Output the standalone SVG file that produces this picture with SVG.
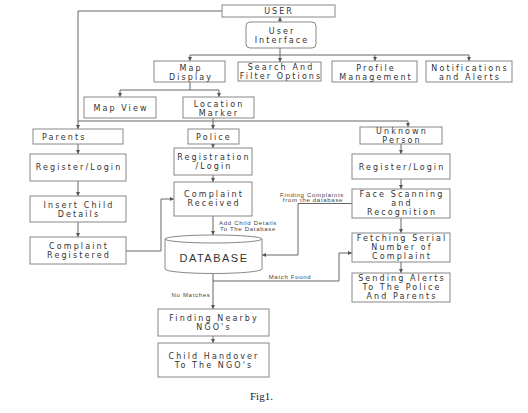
<svg xmlns="http://www.w3.org/2000/svg" width="528" height="413" viewBox="0 0 528 413">
<defs>
<marker id="ah" viewBox="0 0 6 6" refX="6" refY="3" markerWidth="4" markerHeight="4" orient="auto">
<path d="M0,0 L6,3 L0,6 Z" fill="#555"/>
</marker>
<style>
.b{fill:#fff;stroke:#888;stroke-width:1}
.t{font-family:"DejaVu Sans","Liberation Sans",sans-serif;font-size:8px;letter-spacing:2.1px;fill:#333;text-anchor:middle}
.s{font-family:"Liberation Sans",Arial,sans-serif;font-size:6px;letter-spacing:0.7px;fill:#444;text-anchor:middle}
.c path{fill:none;stroke:#666;stroke-width:1}
.a{marker-end:url(#ah)}
</style>
</defs>
<rect width="528" height="413" fill="#fff"/>
<g class="c" id="connectors">
<path class="a" d="M222,11 H78 V129"/>
<path d="M78,121 H408"/>
<path class="a" d="M408,121 V127"/>
<path class="a" d="M213,118 V129"/>
<path class="a" d="M280,22 V17"/>
<path class="a" d="M280,48 V62"/>
<path d="M190,55 H469"/>
<path class="a" d="M190,55 V61"/>
<path class="a" d="M375,55 V61"/>
<path class="a" d="M469,55 V61"/>
<path d="M190,82 V90 M120,90 H219"/>
<path class="a" d="M120,90 V97"/>
<path class="a" d="M219,90 V97"/>
<path class="a" d="M78,144 V154"/>
<path class="a" d="M78,181 V196"/>
<path class="a" d="M78,222 V237"/>
<path class="a" d="M126,251 H161 V199 H174"/>
<path class="a" d="M213,144 V148"/>
<path class="a" d="M213,175 V182"/>
<path class="a" d="M213,216 V235"/>
<path class="a" d="M401,144 V154"/>
<path class="a" d="M401,179 V189"/>
<path class="a" d="M401,218 V233"/>
<path class="a" d="M401,262 V273"/>
<path class="a" d="M352,203.5 H298 V255 H262"/>
<path class="a" d="M213,281 H339 V253 H352"/>
<path class="a" d="M213,273 V309"/>
<path class="a" d="M213,336 V343"/>
</g>
<g id="labels">
<text class="s" x="248" y="225">Add Child Details</text>
<text class="s" x="248" y="231">To The Database</text>
<text class="s" x="312" y="197">Finding Complaints</text>
<text class="s" x="313" y="202">from the database</text>
<text class="s" x="290" y="279">Match Found</text>
<text class="s" x="191" y="297">No Matches</text>
</g>
<g id="user"><rect class="b" x="222" y="5" width="113" height="12"/><text class="t" x="279" y="14" style="letter-spacing:2px">USER</text></g>
<g id="ui"><rect class="b" x="246" y="22" width="70" height="26" rx="4"/><text class="t" x="282" y="34">User</text><text class="t" x="282" y="43">Interface</text></g>
<g id="mapdisplay"><rect class="b" x="154" y="61" width="71" height="21"/><text class="t" x="191" y="70.5">Map</text><text class="t" x="191" y="79.5">Display</text></g>
<g id="search"><rect class="b" x="238" y="62" width="83" height="19"/><text class="t" x="281" y="70">Search And</text><text class="t" x="281" y="79">Filter Options</text></g>
<g id="profile"><rect class="b" x="332" y="61" width="85" height="21"/><text class="t" x="376" y="70.5">Profile</text><text class="t" x="376" y="79.5">Management</text></g>
<g id="notifications"><rect class="b" x="426" y="61" width="86" height="21"/><text class="t" x="470" y="70.5">Notifications</text><text class="t" x="470" y="79.5">and Alerts</text></g>
<g id="mapview"><rect class="b" x="84" y="97" width="72" height="21"/><text class="t" x="121" y="110.5">Map View</text></g>
<g id="location"><rect class="b" x="183" y="97" width="71" height="21"/><text class="t" x="219" y="106.5">Location</text><text class="t" x="219" y="115.5">Marker</text></g>
<g id="parents"><rect class="b" x="33" y="129" width="90" height="15"/><text class="t" x="42" y="139.5" style="text-anchor:start">Parents</text></g>
<g id="police"><rect class="b" x="188" y="129" width="51" height="15"/><text class="t" x="214" y="139.5">Police</text></g>
<g id="unknown"><rect class="b" x="360" y="127" width="82" height="17"/><text class="t" x="402" y="134">Unknown</text><text class="t" x="402" y="142.5">Person</text></g>
<g id="reglogin1"><rect class="b" x="30" y="154" width="96" height="27"/><text class="t" x="79" y="170">Register/Login</text></g>
<g id="insert"><rect class="b" x="30" y="196" width="96" height="26"/><text class="t" x="79" y="207.5">Insert Child</text><text class="t" x="79" y="216.5">Details</text></g>
<g id="registered"><rect class="b" x="30" y="237" width="96" height="27"/><text class="t" x="79" y="248.5">Complaint</text><text class="t" x="79" y="257.5">Registered</text></g>
<g id="registration"><rect class="b" x="174" y="148" width="78" height="27"/><text class="t" x="214" y="160">Registration</text><text class="t" x="214" y="169">/Login</text></g>
<g id="received"><rect class="b" x="174" y="182" width="78" height="34"/><text class="t" x="214" y="197">Complaint</text><text class="t" x="214" y="206">Received</text></g>
<g id="database"><path class="b" d="M165,239 A48.5,4 0 0,1 262,239 L262,269 A48.5,4.5 0 0,1 165,269 Z"/><path d="M165,239 A48.5,4 0 0,0 262,239" fill="none" stroke="#888"/><text class="t" x="214" y="262" style="font-family:'Liberation Sans',Arial,sans-serif;font-size:11px;letter-spacing:1.5px">DATABASE</text></g>
<g id="reglogin2"><rect class="b" x="352" y="154" width="98" height="25"/><text class="t" x="402" y="169.5">Register/Login</text></g>
<g id="face"><rect class="b" x="352" y="189" width="98" height="29"/><text class="t" x="402" y="197">Face Scanning</text><text class="t" x="402" y="206">and</text><text class="t" x="402" y="215">Recognition</text></g>
<g id="fetching"><rect class="b" x="352" y="233" width="98" height="29"/><text class="t" x="402" y="240.5">Fetching Serial</text><text class="t" x="402" y="249.5">Number of</text><text class="t" x="402" y="258.5">Complaint</text></g>
<g id="alerts"><rect class="b" x="352" y="273" width="98" height="29"/><text class="t" x="402" y="281">Sending Alerts</text><text class="t" x="402" y="290">To The Police</text><text class="t" x="402" y="299">And Parents</text></g>
<g id="ngo"><rect class="b" x="158" y="309" width="111" height="27"/><text class="t" x="214" y="320.5">Finding Nearby</text><text class="t" x="214" y="329.5">NGO's</text></g>
<g id="handover"><rect class="b" x="158" y="343" width="111" height="34"/><text class="t" x="214" y="358.5">Child Handover</text><text class="t" x="214" y="367.5">To The NGO's</text></g>
<text x="250" y="400" style="font-family:'Liberation Serif','Times New Roman',serif;font-size:11px;fill:#222">Fig1.</text>
</svg>
